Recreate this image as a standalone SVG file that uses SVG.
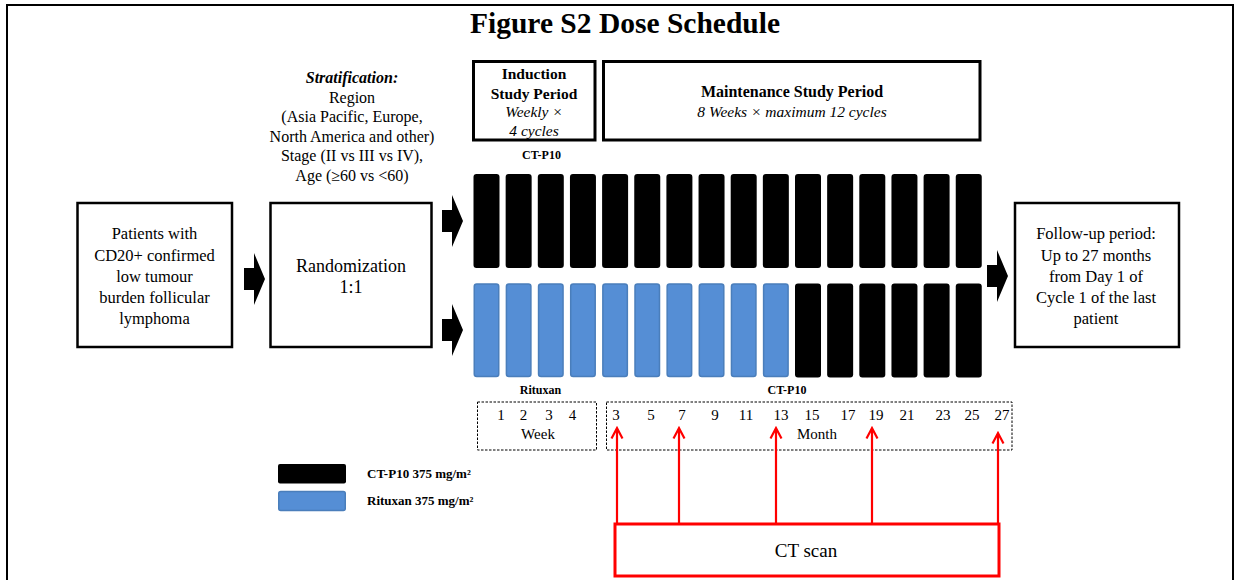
<svg xmlns="http://www.w3.org/2000/svg" xmlns:xlink="http://www.w3.org/1999/xlink" width="1240" height="580" viewBox="0 0 1240 580">
<style>
text { font-family: "Liberation Serif", "Times New Roman", serif; fill: #000; }
.box { fill: #fff; stroke: #000; stroke-width: 2.5; }
.pbox { fill: #fff; stroke: #000; stroke-width: 3; }
.t16 { font-size: 16px; text-anchor: middle; }
.t17 { font-size: 16.5px; text-anchor: middle; }
.t18 { font-size: 18px; text-anchor: middle; }
.hb { font-size: 15.5px; font-weight: bold; text-anchor: middle; }
.hi { font-size: 15.5px; font-style: italic; text-anchor: middle; }
.lab { font-size: 12px; font-weight: bold; text-anchor: middle; }
.leg { font-size: 13px; font-weight: bold; }
.num { font-size: 15px; text-anchor: middle; }
.dash { fill: #fff; stroke: #000; stroke-width: 1; stroke-dasharray: 2.5 1.5; }
.blk { fill: #000; }
.blu { fill: #558ed5; stroke: #4a7ebb; stroke-width: 1.5; }
.red { fill: none; stroke: #ff0000; stroke-width: 2.2; }
.redbox { fill: #fff; stroke: #ff0000; stroke-width: 3; }
</style>
<defs>
<path id="barrow" d="M0,-11 L10,-11 L10,-26 L21,0 L10,26 L10,11 L0,11 Z" fill="#000"/>
<rect id="bar" width="26" height="94" rx="3"/>
</defs>
<rect x="0" y="0" width="1240" height="580" fill="#fff"/>
<rect x="7" y="5" width="1226" height="600" fill="none" stroke="#000" stroke-width="2"/>
<text x="625" y="33" style="font-size:29.5px;font-weight:bold;text-anchor:middle">Figure S2 Dose Schedule</text>

<g id="stratification">
<text x="352" y="83" class="t16" style="font-weight:bold;font-style:italic">Stratification:</text>
<text x="352" y="102.5" class="t16">Region</text>
<text x="352" y="122" class="t16">(Asia Pacific, Europe,</text>
<text x="352" y="141.5" class="t16">North America and other)</text>
<text x="352" y="161" class="t16">Stage (II vs III vs IV),</text>
<text x="352" y="180.5" class="t16">Age (≥60 vs &lt;60)</text>
</g>

<g id="induction">
<rect x="473.5" y="61.5" width="121.5" height="78.5" class="pbox"/>
<text x="534" y="79" class="hb">Induction</text>
<text x="534" y="98.5" class="hb">Study Period</text>
<text x="534" y="117" class="hi">Weekly  ×</text>
<text x="534" y="135.5" class="hi">4 cycles</text>
</g>

<g id="maintenance">
<rect x="603.5" y="61.5" width="376.5" height="78.5" class="pbox"/>
<text x="792" y="97" class="hb" style="font-size:16px">Maintenance Study Period</text>
<text x="792" y="117" class="hi">8 Weeks × maximum 12 cycles</text>
</g>

<g id="patients">
<rect x="77.5" y="203" width="154.5" height="144" class="box"/>
<text x="154.5" y="239" class="t17">Patients  with</text>
<text x="154.5" y="260.5" class="t17">CD20+ confirmed</text>
<text x="154.5" y="281.5" class="t17">low tumour</text>
<text x="154.5" y="303" class="t17">burden follicular</text>
<text x="154.5" y="324" class="t17">lymphoma</text>
</g>

<g id="randomization">
<rect x="270.5" y="203" width="161" height="144" class="box"/>
<text x="351" y="271.5" class="t18">Randomization</text>
<text x="351" y="292.5" class="t18">1:1</text>
</g>

<g id="followup">
<rect x="1015" y="203" width="164" height="144" class="box"/>
<text x="1096" y="239" class="t17">Follow-up period:</text>
<text x="1096" y="260.5" class="t17">Up to 27 months</text>
<text x="1096" y="281.5" class="t17">from Day 1 of</text>
<text x="1096" y="303" class="t17">Cycle 1 of the last</text>
<text x="1096" y="324" class="t17">patient</text>
</g>

<g id="arm-ctp10">
<text x="541.5" y="159" class="lab">CT-P10</text>
<use xlink:href="#bar" href="#bar" x="473.5" y="174" class="blk"/>
<use xlink:href="#bar" href="#bar" x="505.65" y="174" class="blk"/>
<use xlink:href="#bar" href="#bar" x="537.8" y="174" class="blk"/>
<use xlink:href="#bar" href="#bar" x="569.95" y="174" class="blk"/>
<use xlink:href="#bar" href="#bar" x="602.1" y="174" class="blk"/>
<use xlink:href="#bar" href="#bar" x="634.25" y="174" class="blk"/>
<use xlink:href="#bar" href="#bar" x="666.4" y="174" class="blk"/>
<use xlink:href="#bar" href="#bar" x="698.55" y="174" class="blk"/>
<use xlink:href="#bar" href="#bar" x="730.7" y="174" class="blk"/>
<use xlink:href="#bar" href="#bar" x="762.85" y="174" class="blk"/>
<use xlink:href="#bar" href="#bar" x="795" y="174" class="blk"/>
<use xlink:href="#bar" href="#bar" x="827.15" y="174" class="blk"/>
<use xlink:href="#bar" href="#bar" x="859.3" y="174" class="blk"/>
<use xlink:href="#bar" href="#bar" x="891.45" y="174" class="blk"/>
<use xlink:href="#bar" href="#bar" x="923.6" y="174" class="blk"/>
<use xlink:href="#bar" href="#bar" x="955.75" y="174" class="blk"/>
</g>

<g id="arm-rituxan">
<rect x="474.25" y="284" width="24.5" height="92.5" rx="2.5" class="blu"/>
<rect x="506.4" y="284" width="24.5" height="92.5" rx="2.5" class="blu"/>
<rect x="538.55" y="284" width="24.5" height="92.5" rx="2.5" class="blu"/>
<rect x="570.7" y="284" width="24.5" height="92.5" rx="2.5" class="blu"/>
<rect x="602.85" y="284" width="24.5" height="92.5" rx="2.5" class="blu"/>
<rect x="635" y="284" width="24.5" height="92.5" rx="2.5" class="blu"/>
<rect x="667.15" y="284" width="24.5" height="92.5" rx="2.5" class="blu"/>
<rect x="699.3" y="284" width="24.5" height="92.5" rx="2.5" class="blu"/>
<rect x="731.45" y="284" width="24.5" height="92.5" rx="2.5" class="blu"/>
<rect x="763.6" y="284" width="24.5" height="92.5" rx="2.5" class="blu"/>
<use xlink:href="#bar" href="#bar" x="795" y="283.5" class="blk"/>
<use xlink:href="#bar" href="#bar" x="827.15" y="283.5" class="blk"/>
<use xlink:href="#bar" href="#bar" x="859.3" y="283.5" class="blk"/>
<use xlink:href="#bar" href="#bar" x="891.45" y="283.5" class="blk"/>
<use xlink:href="#bar" href="#bar" x="923.6" y="283.5" class="blk"/>
<use xlink:href="#bar" href="#bar" x="955.75" y="283.5" class="blk"/>
<text x="540.5" y="394" class="lab">Rituxan</text>
<text x="787" y="394" class="lab">CT-P10</text>
</g>

<g id="week-axis">
<rect x="477.5" y="402" width="119" height="48" class="dash"/>
<text x="501" y="420" class="num">1</text>
<text x="523.5" y="420" class="num">2</text>
<text x="549" y="420" class="num">3</text>
<text x="572.5" y="420" class="num">4</text>
<text x="538" y="438.5" class="num">Week</text>
</g>

<g id="month-axis">
<rect x="606.5" y="402" width="405.5" height="48" class="dash"/>
<text x="616" y="420" class="num">3</text>
<text x="651" y="420" class="num">5</text>
<text x="682" y="420" class="num">7</text>
<text x="715" y="420" class="num">9</text>
<text x="746" y="420" class="num">11</text>
<text x="781" y="420" class="num">13</text>
<text x="812" y="420" class="num">15</text>
<text x="848" y="420" class="num">17</text>
<text x="876" y="420" class="num">19</text>
<text x="907" y="420" class="num">21</text>
<text x="943" y="420" class="num">23</text>
<text x="972" y="420" class="num">25</text>
<text x="1002" y="420" class="num">27</text>
<text x="817" y="438.5" class="num">Month</text>
</g>

<g id="legend">
<rect x="278" y="464" width="68" height="19.5" rx="2" class="blk"/>
<rect x="278.75" y="491.5" width="66.5" height="19" rx="2" class="blu"/>
<text x="367" y="477.5" class="leg">CT-P10 375 mg/m²</text>
<text x="367" y="505" class="leg">Rituxan 375 mg/m²</text>
</g>

<g id="ct-scan">
<rect x="615" y="524" width="384" height="52" class="redbox"/>
<text x="806" y="556.5" style="font-size:19px;text-anchor:middle">CT scan</text>
</g>

<g id="connectors">
<use xlink:href="#barrow" href="#barrow" x="244" y="279"/>
<use xlink:href="#barrow" href="#barrow" x="442" y="221"/>
<use xlink:href="#barrow" href="#barrow" x="442" y="330"/>
<use xlink:href="#barrow" href="#barrow" x="987" y="276"/>
<path class="red" d="M617,524 V428 M611.5,438.5 L617,428 L622.5,438.5"/>
<path class="red" d="M679,524 V428 M673.5,438.5 L679,428 L684.5,438.5"/>
<path class="red" d="M776,524 V428 M770.5,438.5 L776,428 L781.5,438.5"/>
<path class="red" d="M872,524 V428 M866.5,438.5 L872,428 L877.5,438.5"/>
<path class="red" d="M998,524 V433 M992.5,443.5 L998,433 L1003.5,443.5"/>
</g>
</svg>
